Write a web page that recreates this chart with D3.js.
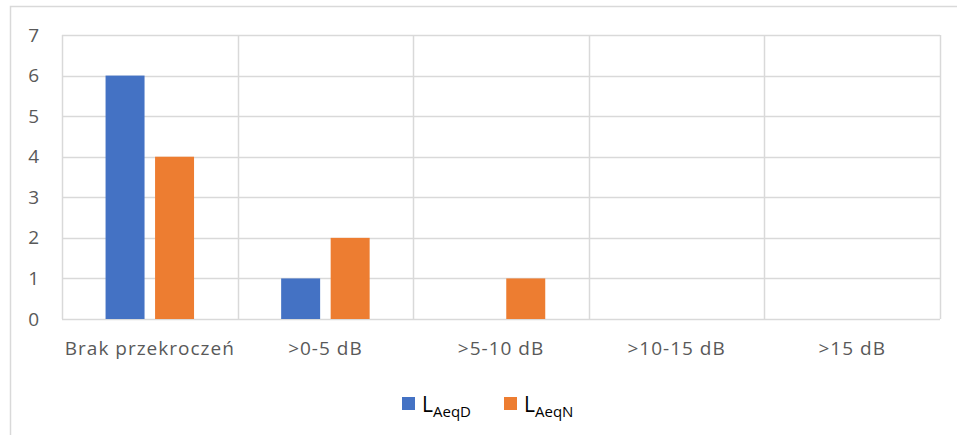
<!DOCTYPE html>
<html>
<head>
<meta charset="utf-8">
<script src="https://cdn.jsdelivr.net/npm/d3@7"></script>
<style>
  html, body { margin: 0; padding: 0; background: #fff; }
  svg { display: block; }
</style>
</head>
<body>
<svg id="chart" width="957" height="435"></svg>
<script>
// Number of measurement points per exceedance class
const categories = ["Brak przekroczeń", ">0-5 dB", ">5-10 dB", ">10-15 dB", ">15 dB"];
const seriesKeys = ["LAeqD", "LAeqN"];
const valuesD = [6, 1, 0, 0, 0];
const valuesN = [4, 2, 1, 0, 0];
const yTicks = [0, 1, 2, 3, 4, 5, 6, 7];
const legendMain = ["L", "L"];
const legendSub = ["AeqD", "AeqN"];

const colors = ["#4472C4", "#ED7D31"];
const gridColor = "#d9d9d9";
const textColor = "#595959";
const font = "'Open Sans', 'Noto Sans', sans-serif";

const svg = d3.select("#chart");
const margin = { left: 62, right: 17, top: 35, bottom: 116 };
const W = 957, H = 435;
const plotW = W - margin.left - margin.right;
const plotH = H - margin.top - margin.bottom;

// chart frame
svg.append("path")
  .attr("d", `M10.5,${H} V6.5 H${W}`)
  .attr("fill", "none")
  .attr("stroke", gridColor)
  .attr("stroke-width", 1.5);

const g = svg.append("g").attr("transform", `translate(${margin.left},${margin.top})`);

const x = d3.scaleBand().domain(categories).range([0, plotW]).paddingInner(0).paddingOuter(0);
const y = d3.scaleLinear().domain([0, 7]).range([plotH, 0]);

// horizontal gridlines
g.append("g").selectAll("line").data(yTicks).join("line")
  .attr("x1", 0).attr("x2", plotW)
  .attr("y1", d => Math.round(y(d)) + 0.5).attr("y2", d => Math.round(y(d)) + 0.5)
  .attr("stroke", gridColor).attr("stroke-width", 1.5);

// vertical category separators
const bounds = categories.map(c => x(c)).concat([plotW]);
g.append("g").selectAll("line").data(bounds).join("line")
  .attr("x1", d => Math.round(d) + 0.5).attr("x2", d => Math.round(d) + 0.5)
  .attr("y1", 0).attr("y2", plotH)
  .attr("stroke", gridColor).attr("stroke-width", 1.5);

// y axis labels
const yAxis = d3.axisLeft(y).tickValues(yTicks).tickSize(0).tickPadding(23).tickFormat(d3.format("d"));
const ya = g.append("g").call(yAxis);
ya.select(".domain").remove();
ya.selectAll("text")
  .attr("fill", textColor)
  .style("font-family", font)
  .style("font-size", "19px");

// bars
const barW = x.bandwidth() * 0.222;
const barGap = barW * 0.27;
const groupW = barW * 2 + barGap;
const offsets = [0, barW + barGap];
const data = categories.map((c, i) => ({ c, v: [valuesD[i], valuesN[i]] }));

seriesKeys.forEach((key, s) => {
  g.append("g").selectAll("rect").data(data).join("rect")
    .attr("x", d => x(d.c) + (x.bandwidth() - groupW) / 2 + offsets[s])
    .attr("width", barW)
    .attr("y", d => y(d.v[s]))
    .attr("height", d => y(0) - y(d.v[s]))
    .attr("fill", colors[s]);
});

// x axis labels
const xAxis = d3.axisBottom(x).tickSize(0).tickPadding(23);
const xa = g.append("g").attr("transform", `translate(0,${plotH})`).call(xAxis);
xa.select(".domain").remove();
xa.selectAll("text")
  .attr("fill", textColor)
  .style("font-family", font)
  .style("font-size", "19px")
  .style("letter-spacing", "1px");

// legend
const legend = svg.append("g").attr("transform", "translate(402,397)");
const legendX = [0, 102];
seriesKeys.forEach((key, s) => {
  const item = legend.append("g").attr("transform", `translate(${legendX[s]},0)`);
  item.append("rect").attr("width", 13).attr("height", 13).attr("fill", colors[s]);
  const t = item.append("text")
    .attr("x", 20).attr("y", 15)
    .attr("fill", "#000")
    .style("font-family", font)
    .style("font-size", "21px");
  t.append("tspan").text(legendMain[s]);
  t.append("tspan").attr("dy", 5).style("font-size", "15px").text(legendSub[s]);
});
</script>
</body>
</html>
